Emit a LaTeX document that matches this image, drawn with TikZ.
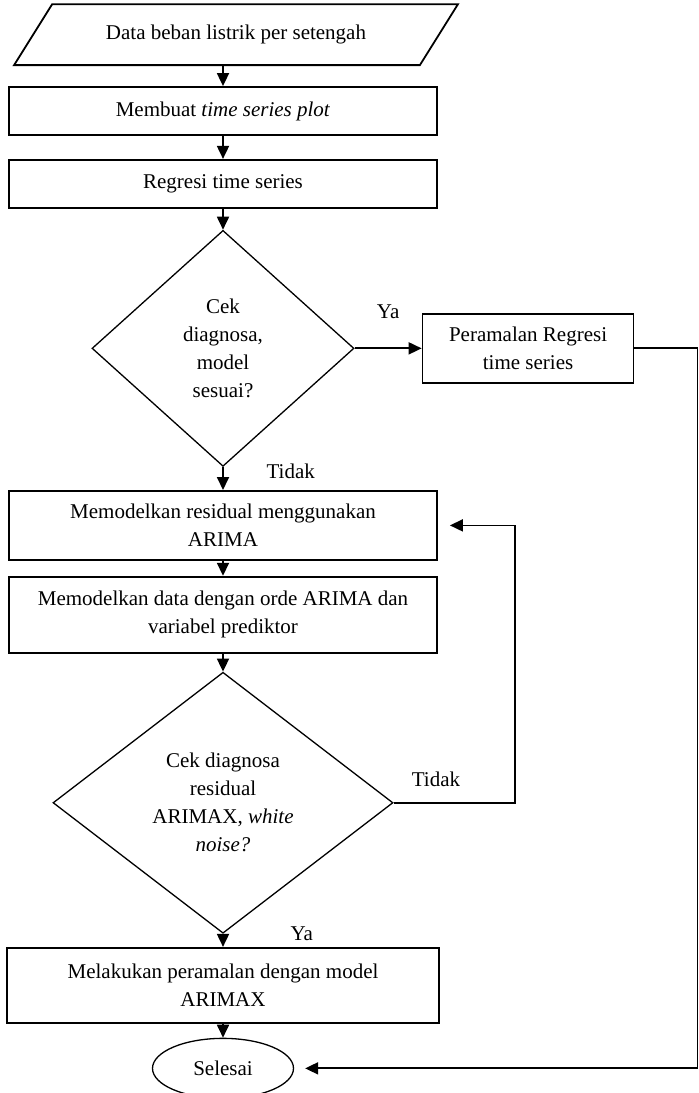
\documentclass[tikz,border=0pt]{standalone}
\usepackage{fontspec}
\setmainfont{Liberation Serif}
\usetikzlibrary{shapes.geometric,positioning,arrows.meta,calc}

\begin{document}
\begin{tikzpicture}[
    every node/.style = {font=\fontsize{10.5pt}{14pt}\selectfont},
    proc/.style = {draw, line width=0.9pt, rectangle, align=center, minimum width=214pt, inner sep=2pt},
    io/.style = {rectangle, minimum width=202.5pt, minimum height=30pt, inner sep=2pt},
    decide/.style = {draw, line width=0.65pt, diamond, align=center, inner sep=1pt},
    term/.style = {draw, line width=0.65pt, ellipse, minimum width=70.5pt, minimum height=30pt},
    line/.style = {line width=0.9pt, -{Triangle[width=6pt,length=6.5pt]}}
  ]
  \useasboundingbox (0,0) rectangle (349.5pt,-546.5pt);
  \node[proc, minimum height=24pt] (plot) at (111.5pt,-55.5pt) {Membuat \textit{time series plot}};
  \node[io, above=10.5pt of plot, xshift=6.5pt] (data) {Data beban listrik per setengah};
  \draw[line width=0.9pt] ($(data.south west)+(-9.5pt,0)$) -- ($(data.north west)+(9.5pt,0)$)
    -- ($(data.north east)+(9.5pt,0)$) -- ($(data.south east)+(-9.5pt,0)$) -- cycle;
  \node[proc, minimum height=24pt, below=11.5pt of plot] (regresi) {Regresi time series};
  \node[decide, minimum width=131pt, minimum height=118pt, below=10.5pt of regresi] (cek1) {Cek\\diagnosa,\\model\\sesuai?};
  \node[proc, minimum width=105.5pt, minimum height=34.5pt, right=33.5pt of cek1] (ramal1) {Peramalan Regresi\\time series};
  \node[proc, minimum height=34.5pt, below=11.5pt of cek1] (resid) {Memodelkan residual menggunakan\\ARIMA};
  \node[proc, minimum height=38pt, below=7.5pt of resid] (orde) {Memodelkan data dengan orde ARIMA dan\\variabel prediktor};
  \node[decide, minimum width=170pt, minimum height=130.5pt, below=9pt of orde] (cek2) {Cek diagnosa\\residual\\ARIMAX, \textit{white}\\\textit{noise?}};
  \node[proc, minimum width=216pt, minimum height=37.5pt, below=6.5pt of cek2] (ramal2) {Melakukan peramalan dengan model\\ARIMAX};
  \node[term, below=7pt of ramal2] (selesai) {Selesai};

  \draw[line] (plot.north |- data.south) -- (plot);
  \draw[line] (plot) -- (regresi);
  \draw[line] (regresi) -- (cek1);
  \draw[line] (cek1.east) -- node[above=11pt]{Ya} (ramal1.west);
  \draw[line] (cek1) -- node[pos=0.2,right=18pt]{Tidak} (resid);
  \draw[line] (resid) -- (orde);
  \draw[line] (orde) -- (cek2);
  \draw[line, shorten >=6pt] (cek2.east) -- node[pos=0.35,above=4pt]{Tidak} ++(60.5pt,0) |- (resid.east);
  \draw[line] (cek2) -- node[pos=0,right=30pt]{Ya} (ramal2);
  \draw[line] (ramal2) -- (selesai);
  \draw[line, shorten >=5.5pt] (ramal1.east) -- ++(31.5pt,0) |- (selesai.east);
\end{tikzpicture}
\end{document}
